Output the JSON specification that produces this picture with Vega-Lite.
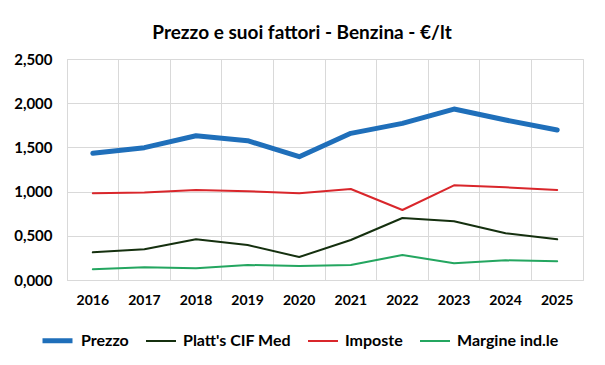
{
  "$schema": "https://vega.github.io/schema/vega-lite/v6.json",
  "width": 516,
  "height": 221,
  "autosize": {"type": "none"},
  "padding": {"left": 67, "top": 59, "right": 22, "bottom": 85},
  "background": "white",
  "title": {
    "text": "Prezzo e suoi fattori - Benzina - €/lt",
    "font": "Lato",
    "fontSize": 19,
    "fontWeight": "bold",
    "color": "#000000",
    "anchor": "middle",
    "dx": -23,
    "offset": 9
  },
  "data": {
    "values": [
      {"anno": "2016", "serie": "Prezzo", "valore": 1.433},
      {"anno": "2017", "serie": "Prezzo", "valore": 1.497},
      {"anno": "2018", "serie": "Prezzo", "valore": 1.632},
      {"anno": "2019", "serie": "Prezzo", "valore": 1.576},
      {"anno": "2020", "serie": "Prezzo", "valore": 1.395},
      {"anno": "2021", "serie": "Prezzo", "valore": 1.659},
      {"anno": "2022", "serie": "Prezzo", "valore": 1.772},
      {"anno": "2023", "serie": "Prezzo", "valore": 1.934},
      {"anno": "2024", "serie": "Prezzo", "valore": 1.81},
      {"anno": "2025", "serie": "Prezzo", "valore": 1.697},
      {"anno": "2016", "serie": "Platt's CIF Med", "valore": 0.313},
      {"anno": "2017", "serie": "Platt's CIF Med", "valore": 0.347},
      {"anno": "2018", "serie": "Platt's CIF Med", "valore": 0.46},
      {"anno": "2019", "serie": "Platt's CIF Med", "valore": 0.396},
      {"anno": "2020", "serie": "Platt's CIF Med", "valore": 0.26},
      {"anno": "2021", "serie": "Platt's CIF Med", "valore": 0.452},
      {"anno": "2022", "serie": "Platt's CIF Med", "valore": 0.701},
      {"anno": "2023", "serie": "Platt's CIF Med", "valore": 0.664},
      {"anno": "2024", "serie": "Platt's CIF Med", "valore": 0.528},
      {"anno": "2025", "serie": "Platt's CIF Med", "valore": 0.46},
      {"anno": "2016", "serie": "Imposte", "valore": 0.981},
      {"anno": "2017", "serie": "Imposte", "valore": 0.99},
      {"anno": "2018", "serie": "Imposte", "valore": 1.018},
      {"anno": "2019", "serie": "Imposte", "valore": 1.005},
      {"anno": "2020", "serie": "Imposte", "valore": 0.981},
      {"anno": "2021", "serie": "Imposte", "valore": 1.029},
      {"anno": "2022", "serie": "Imposte", "valore": 0.792},
      {"anno": "2023", "serie": "Imposte", "valore": 1.071},
      {"anno": "2024", "serie": "Imposte", "valore": 1.048},
      {"anno": "2025", "serie": "Imposte", "valore": 1.018},
      {"anno": "2016", "serie": "Margine ind.le", "valore": 0.121},
      {"anno": "2017", "serie": "Margine ind.le", "valore": 0.143},
      {"anno": "2018", "serie": "Margine ind.le", "valore": 0.132},
      {"anno": "2019", "serie": "Margine ind.le", "valore": 0.17},
      {"anno": "2020", "serie": "Margine ind.le", "valore": 0.158},
      {"anno": "2021", "serie": "Margine ind.le", "valore": 0.17},
      {"anno": "2022", "serie": "Margine ind.le", "valore": 0.283},
      {"anno": "2023", "serie": "Margine ind.le", "valore": 0.189},
      {"anno": "2024", "serie": "Margine ind.le", "valore": 0.223},
      {"anno": "2025", "serie": "Margine ind.le", "valore": 0.211}
    ]
  },
  "mark": {"type": "line", "strokeCap": "round", "strokeJoin": "round"},
  "encoding": {
    "x": {
      "field": "anno",
      "type": "ordinal",
      "scale": {"type": "band", "paddingInner": 0, "paddingOuter": 0},
      "axis": {
        "title": null,
        "bandPosition": 0,
        "ticks": false,
        "labelAngle": 0,
        "labelPadding": 13,
        "labelFont": "Lato",
        "labelFontSize": 14,
        "labelFontWeight": "bold",
        "labelColor": "#000000",
        "grid": true,
        "gridColor": "#d9d9d9",
        "domainColor": "#d9d9d9"
      }
    },
    "y": {
      "field": "valore",
      "type": "quantitative",
      "scale": {"domain": [0, 2.5], "nice": false},
      "axis": {
        "title": null,
        "values": [0, 0.5, 1, 1.5, 2, 2.5],
        "labelExpr": "replace(format(datum.value, '.3f'), '.', ',')",
        "ticks": false,
        "labelPadding": 15,
        "labelFont": "Lato",
        "labelFontSize": 15,
        "labelFontWeight": "bold",
        "labelColor": "#000000",
        "gridColor": "#d9d9d9",
        "domainColor": "#d9d9d9"
      }
    },
    "color": {
      "field": "serie",
      "type": "nominal",
      "scale": {
        "domain": ["Prezzo", "Platt's CIF Med", "Imposte", "Margine ind.le"],
        "range": ["#1f6fba", "#15300f", "#d9262b", "#24a660"]
      },
      "legend": {
        "title": null,
        "orient": "none",
        "direction": "horizontal",
        "legendX": -27,
        "legendY": 264,
        "symbolType": "stroke",
        "symbolSize": 900,
        "labelFont": "Lato",
        "labelFontSize": 16,
        "labelFontWeight": "bold",
        "labelColor": "#000000",
        "labelOffset": 6,
        "columnPadding": 13,
        "labelLimit": 300
      }
    },
    "strokeWidth": {
      "field": "serie",
      "type": "nominal",
      "scale": {
        "type": "ordinal",
        "domain": ["Prezzo", "Platt's CIF Med", "Imposte", "Margine ind.le"],
        "range": [5, 2, 2, 2]
      },
      "legend": {
        "title": null,
        "orient": "none",
        "direction": "horizontal",
        "legendX": -27,
        "legendY": 264,
        "symbolType": "stroke",
        "symbolSize": 900,
        "labelFont": "Lato",
        "labelFontSize": 16,
        "labelFontWeight": "bold",
        "labelColor": "#000000",
        "labelOffset": 6,
        "columnPadding": 13,
        "labelLimit": 300
      }
    },
    "order": {"field": "anno"}
  },
  "config": {
    "view": {"stroke": "#d9d9d9"},
    "axis": {"gridWidth": 1}
  }
}
